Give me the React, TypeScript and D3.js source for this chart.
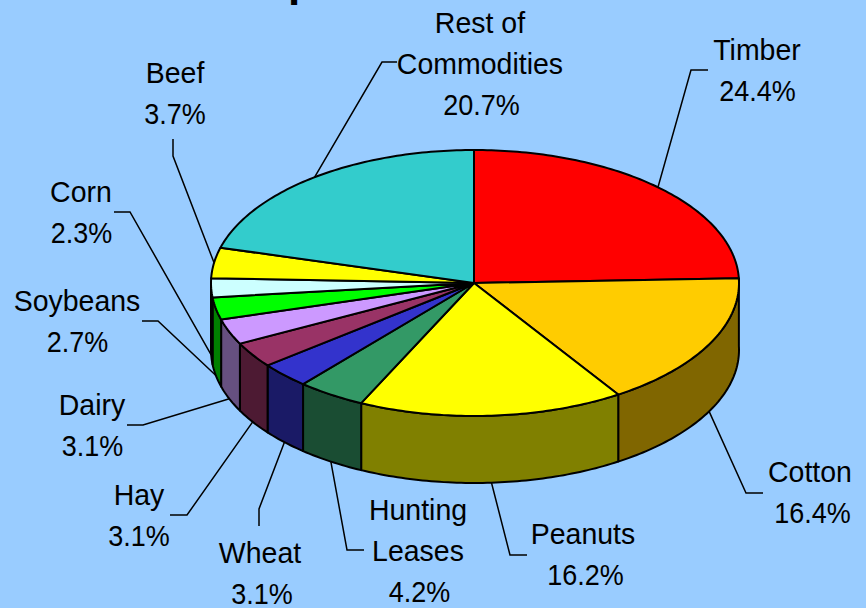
import React from "react";
import * as d3 from "d3";

const categories = ["Timber", "Cotton", "Peanuts", "Hunting Leases", "Wheat", "Hay", "Dairy", "Soybeans", "Corn", "Beef", "Rest of Commodities"];
const shares = [24.4, 16.4, 16.2, 4.2, 3.1, 3.1, 3.1, 2.7, 2.3, 3.7, 20.7];
const topColors = ["#ff0000", "#ffcc00", "#ffff00", "#339966", "#3333cc", "#993366", "#cc99ff", "#00ff00", "#ccffff", "#ffff00", "#33cccc"];
const wallColors = ["#800000", "#806600", "#808000", "#1a4d33", "#1a1a66", "#4d1a33", "#665080", "#008000", "#668080", "#808000", "#1a6666"];
// label text lines, centre x, first baseline
const labelLines = [["Timber"], ["Cotton"], ["Peanuts"], ["Hunting", "Leases"], ["Wheat"], ["Hay"], ["Dairy"], ["Soybeans"], ["Corn"], ["Beef"], ["Rest of", "Commodities"]];
const labelX = [757, 810, 583, 418, 260, 139, 92, 77, 81, 175, 480];
const pctX = [757.5, 812.5, 585.5, 419.5, 262, 139, 92.5, 77.5, 81.5, 175, 481.5];
const labelY = [60, 482, 544, 520, 563, 505, 415, 311, 202, 83, 33];
// leader elbows, then the free end
const elbows: [number, number, number, number][] = [
  [691, 70, 708, 70], [746, 493, 763, 493], [510, 555, 527, 555], [347, 550, 364, 550],
  [259, 509, 259, 526], [187, 515, 170, 515], [143, 425, 127, 425], [158, 321, 142, 321],
  [130, 212, 114, 212], [173, 156, 173, 139], [382, 62, 397, 62],
];

const W = 866, H = 608;
const left = 211, cx = 474, right = 739, upper = 150, cy = 283, lower = 416, depth = 67;
const FONT = "'Liberation Sans', Arial, sans-serif";
const LINE = 41;

export default function App() {
  const arcs = d3.pie<number>().sort(null).value((d) => d)(shares);
  const px = d3.scaleLinear().domain([-1, 0, 1]).range([left, cx, right]);
  const py = d3.scaleLinear().domain([-1, 0, 1]).range([upper, cy, lower]);
  const rim = (t: number, dz = 0): [number, number] => [px(Math.sin(t)), py(-Math.cos(t)) + dz];
  const line = d3.line();
  const sweep = (t0: number, t1: number) => {
    const n = Math.max(2, Math.ceil((t1 - t0) * 60));
    return d3.range(0, n + 1).map((i) => t0 + ((t1 - t0) * i) / n);
  };

  const wall = (a: d3.PieArcDatum<number>) => {
    const t0 = Math.max(a.startAngle, Math.PI / 2 - 0.03);
    const t1 = Math.min(a.endAngle, (3 * Math.PI) / 2);
    if (t1 <= t0) return null;
    const ts = sweep(t0, t1);
    return line([...ts.map((t) => rim(t)), ...ts.slice().reverse().map((t) => rim(t, depth))]) + "Z";
  };
  const top = (a: d3.PieArcDatum<number>) =>
    line([[cx, cy], ...sweep(a.startAngle, a.endAngle).map((t) => rim(t))]) + "Z";

  return (
    <svg width={W} height={H} viewBox={`0 0 ${W} ${H}`} style={{ position: "fixed", left: 0, top: 0, background: "#99ccff" }}>
      <text x={288} y={-4} fontFamily={FONT} fontWeight="bold" fontSize={44} fill="#000">p</text>
      <g fill="none" stroke="#000" strokeWidth={1.5}>
        {arcs.map((a, i) => {
          const mid = (a.startAngle + a.endAngle) / 2;
          const start = rim(mid, Math.cos(mid) < 0 ? depth : 0);
          const e = elbows[i];
          return <path key={i} d={line([start, [e[0], e[1]], [e[2], e[3]]]) || ""} />;
        })}
      </g>
      {arcs.map((a, i) => {
        const d = wall(a);
        return d ? <path key={i} d={d} fill={wallColors[i]} stroke="#000" strokeWidth={2} strokeLinejoin="round" /> : null;
      })}
      {arcs.map((a, i) => (
        <path key={i} d={top(a)} fill={topColors[i]} stroke="#000" strokeWidth={2} strokeLinejoin="round" />
      ))}
      <g fontFamily={FONT} fontSize={30} fill="#000" textAnchor="middle">
        {categories.map((c, i) => {
          const lines = labelLines[i];
          return (
            <g key={c}>
              {lines.map((t, j) => (
                <text key={j} transform={`translate(${labelX[i]},${labelY[i] + j * LINE}) scale(0.95,1)`}>{t}</text>
              ))}
              <text transform={`translate(${pctX[i]},${labelY[i] + lines.length * LINE}) scale(0.9,1)`}>{shares[i].toFixed(1)}%</text>
            </g>
          );
        })}
      </g>
    </svg>
  );
}
